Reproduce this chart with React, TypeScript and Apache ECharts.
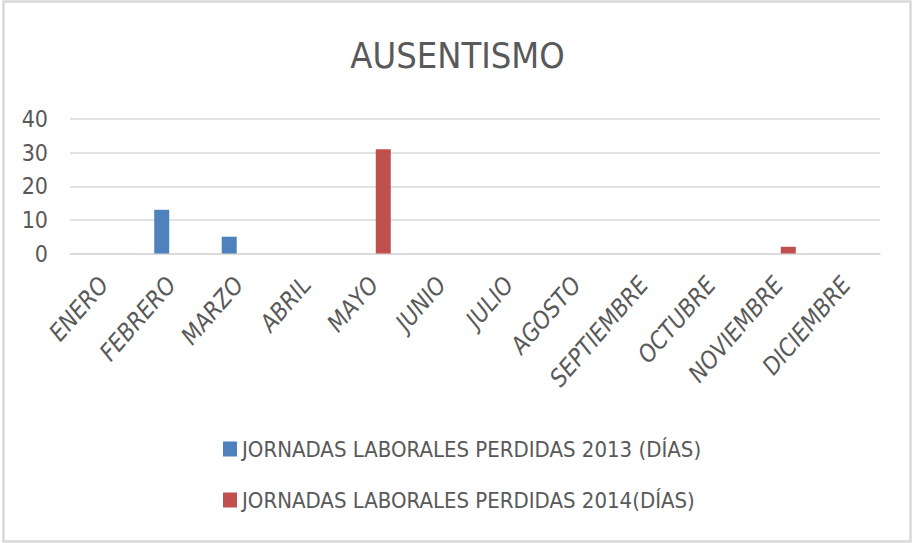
import React, { useEffect, useRef } from "react";
import * as echarts from "echarts";

const months = [
  "ENERO", "FEBRERO", "MARZO", "ABRIL", "MAYO", "JUNIO",
  "JULIO", "AGOSTO", "SEPTIEMBRE", "OCTUBRE", "NOVIEMBRE", "DICIEMBRE",
];
const series2013 = [0, 13, 5, 0, 0, 0, 0, 0, 0, 0, 0, 0];
const series2014 = [0, 0, 0, 0, 31, 0, 0, 0, 0, 0, 2, 0];
const name2013 = "JORNADAS LABORALES PERDIDAS 2013 (DÍAS)";
const name2014 = "JORNADAS LABORALES PERDIDAS 2014(DÍAS)";
const titleText = "AUSENTISMO";

const FONT = "'Liberation Sans Narrow', 'DejaVu Sans Condensed', sans-serif";
const GRAY = "#595959";

export default function App() {
  const ref = useRef<HTMLDivElement>(null);
  useEffect(() => {
    if (!ref.current) return;
    const chart = echarts.init(ref.current, undefined, { renderer: "svg" });
    chart.setOption({
      animation: false,
      backgroundColor: "#ffffff",
      textStyle: { fontFamily: FONT },
      title: {
        text: titleText,
        left: "center",
        top: 32,
        textStyle: { fontFamily: FONT, fontSize: 36, fontWeight: "normal", color: GRAY },
      },
      graphic: [
        {
          type: "rect",
          shape: { x: 3.5, y: 1.5, width: 907, height: 540 },
          style: { fill: "none", stroke: "#d9d9d9", lineWidth: 2.5 },
          silent: true,
        },
      ],
      legend: {
        orient: "vertical",
        left: 223,
        top: 438,
        padding: 0,
        itemWidth: 14,
        itemHeight: 15,
        itemGap: 29,
        icon: "rect",
        textStyle: { fontFamily: FONT, fontSize: 22, color: GRAY },
        data: [name2013, name2014],
      },
      grid: { left: 70, right: 35, top: 119, bottom: 289.5, containLabel: false },
      xAxis: {
        type: "category",
        data: months,
        axisLine: { show: true, lineStyle: { color: "#d9d9d9", width: 1.5 } },
        axisTick: { show: false },
        axisLabel: {
          interval: 0,
          rotate: 49,
          margin: 27,
          fontFamily: FONT,
          fontStyle: "italic",
          fontSize: 24,
          color: GRAY,
        },
      },
      yAxis: {
        type: "value",
        min: 0,
        max: 40,
        interval: 10,
        axisLine: { show: false },
        axisTick: { show: false },
        splitLine: { lineStyle: { color: "#d9d9d9", width: 1.5 } },
        axisLabel: { margin: 22, fontFamily: FONT, fontSize: 23, color: GRAY },
      },
      series: [
        {
          name: name2013,
          type: "bar",
          data: series2013,
          barWidth: 15,
          barGap: "27%",
          itemStyle: { color: "#4f81bd" },
        },
        {
          name: name2014,
          type: "bar",
          data: series2014,
          barWidth: 15,
          barGap: "27%",
          itemStyle: { color: "#c0504d" },
        },
      ],
    });
    return () => chart.dispose();
  }, []);
  return (
    <div
      ref={ref}
      style={{ position: "absolute", left: 0, top: 0, width: 915, height: 543 }}
    />
  );
}
